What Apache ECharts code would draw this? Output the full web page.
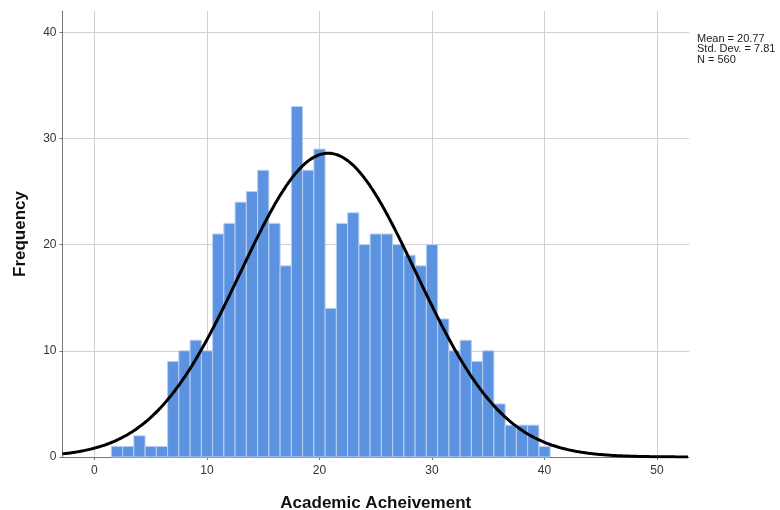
<!DOCTYPE html>
<html>
<head>
<meta charset="utf-8">
<script src="https://cdn.jsdelivr.net/npm/echarts@6/dist/echarts.min.js"></script>
<style>html,body{margin:0;padding:0;background:#fff;}#chart{width:780px;height:510px;}</style>
</head>
<body>
<div id="chart"></div>
<script>
// Histogram bins (bin centres, width 1) and counts
var binCenters = [2,3,4,5,6,7,8,9,10,11,12,13,14,15,16,17,18,19,20,21,22,23,24,25,26,27,28,29,30,31,32,33,34,35,36,37,38,39,40];
var counts =     [1,1,2,1,1,9,10,11,10,21,22,24,25,27,22,18,33,27,29,14,22,23,20,21,21,20,19,18,20,13,10,11,9,10,5,3,3,3,1];
// Summary statistics shown on the chart
var statMean = 20.77;
var statSD = 7.81;
var statN = 560;
var statLabels = ['Mean = 20.77', 'Std. Dev. = 7.81', 'N = 560'];
var xTicks = [0,10,20,30,40,50];
var yTicks = [0,10,20,30,40];
var xTitle = 'Academic Acheivement';
var yTitle = 'Frequency';

var xMin = -2.84, xMax = 52.84;

// Normal curve scaled to counts (bin width 1), derived from the stated mean/SD/N
var curve = [];
for (var x = xMin; x <= xMax + 1e-9; x += 0.2) {
  var z = (x - statMean) / statSD;
  curve.push([x, statN * Math.exp(-0.5 * z * z) / (statSD * Math.sqrt(2 * Math.PI))]);
}
var barData = binCenters.map(function (c, i) { return [c, counts[i]]; });

var chart = echarts.init(document.getElementById('chart'), null, {renderer: 'canvas'});
var lblFont = {fontFamily: 'Liberation Sans, Arial, sans-serif', fontSize: 12, color: '#333'};
var titleFont = {fontFamily: 'Liberation Sans, Arial, sans-serif', fontSize: 17, fontWeight: 'bold', color: '#111'};
chart.setOption({
  animation: false,
  backgroundColor: '#fff',
  grid: {left: 62.5, right: 91, top: 11, bottom: 53, containLabel: false, outerBoundsMode: 'none'},
  xAxis: {
    type: 'value', min: xMin, max: xMax, splitNumber: 5,
    axisLine: {show: true, onZero: false, lineStyle: {color: '#777', width: 1}},
    axisTick: {show: true, length: 3, lineStyle: {color: '#777'}},
    axisLabel: Object.assign({margin: 8, showMinLabel: false, showMaxLabel: false,
      formatter: function (v) { return xTicks.indexOf(Math.round(v * 100) / 100) >= 0 ? String(Math.round(v)) : ''; }}, lblFont),
    splitLine: {show: true, showMinLine: false, showMaxLine: false, lineStyle: {color: '#d0d0d0', width: 1}},
    name: xTitle, nameLocation: 'middle', nameGap: 38,
    nameTextStyle: titleFont
  },
  yAxis: {
    type: 'value', min: 0, max: 42, interval: 10,
    axisLine: {show: true, onZero: false, lineStyle: {color: '#777', width: 1}},
    axisTick: {show: true, length: 3, lineStyle: {color: '#777'}},
    axisLabel: Object.assign({margin: 6, showMaxLabel: false,
      formatter: function (v) { return yTicks.indexOf(v) >= 0 ? String(v) : ''; }}, lblFont),
    splitLine: {show: true, showMinLine: false, showMaxLine: false, lineStyle: {color: '#d0d0d0', width: 1}},
    name: yTitle, nameLocation: 'middle', nameGap: 34, nameRotate: 90,
    nameTextStyle: titleFont
  },
  series: [
    {
      type: 'custom',
      data: barData,
      encode: {x: 0, y: 1},
      renderItem: function (params, api) {
        var c = api.value(0), v = api.value(1);
        var p1 = api.coord([c - 0.5, v]);
        var p2 = api.coord([c + 0.5, 0]);
        return {
          type: 'rect',
          shape: {x: p1[0], y: p1[1], width: p2[0] - p1[0], height: p2[1] - p1[1]},
          style: {fill: '#5b93e0', stroke: '#b9d0f2', lineWidth: 1}
        };
      },
      z: 2
    },
    {
      type: 'line',
      data: curve,
      showSymbol: false,
      smooth: true,
      lineStyle: {color: '#000', width: 3},
      z: 3
    }
  ],
  graphic: [{
    type: 'text', left: 697, top: 33,
    style: {text: statLabels.join('\n'), fontFamily: 'Liberation Sans, Arial, sans-serif', fontSize: 11, lineHeight: 10.5, fill: '#222'}
  }]
});
</script>
</body>
</html>
